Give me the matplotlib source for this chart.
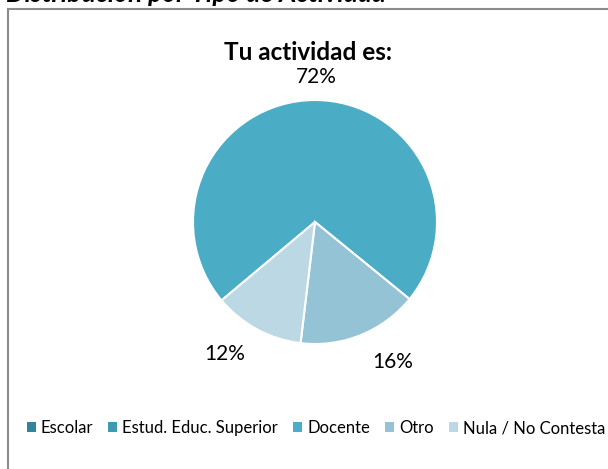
import numpy as np
import matplotlib
matplotlib.use('Agg')
import matplotlib.pyplot as plt
from matplotlib.patches import Rectangle, Patch

plt.rcParams['font.family'] = ['Lato', 'DejaVu Sans']

categorias = ['Escolar', 'Estud. Educ. Superior', 'Docente', 'Otro', 'Nula / No Contesta']
valores = [0, 0, 72, 16, 12]
colores = ['#31849b', '#3d9ab3', '#4bacc6', '#93c3d5', '#bcd8e4']
# label placement (distance in radii, angle tweak in degrees), Excel "best fit" style
dist_etiqueta = [0, 0, 1.19, 1.31, 1.31]
giro_etiqueta = [0, 0, -1, 7, -6]

W, H = 608, 469
fig = plt.figure(figsize=(W / 100, H / 100), dpi=100)

# chart frame (runs off the right and bottom edge)
fig.patches.append(Rectangle((8 / W, -0.05), 1.1, 1.05 - 9 / H, transform=fig.transFigure,
                             fill=False, edgecolor='#8c8c8c', linewidth=1.5, zorder=0))

# sheet title above the chart, cut by the top edge as in the original
fig.text(6 / W, 1 - 2 / H, 'Distribución por Tipo de Actividad', fontsize=19,
         fontweight='bold', fontstyle='italic', va='baseline', ha='left')

fig.text(308 / W, 1 - 60 / H, 'Tu actividad es:', fontsize=17.5, fontweight='bold',
         ha='center', va='baseline')

cx, cy, r = 315, 222, 122
ax = fig.add_axes([(cx - r) / W, (H - cy - r) / H, 2 * r / W, 2 * r / H])
wedges, _ = ax.pie(valores, colors=colores, startangle=-140, counterclock=False,
                   wedgeprops=dict(edgecolor='white', linewidth=1.5))
ax.set_xlim(-1, 1)
ax.set_ylim(-1, 1)
ax.set_aspect('auto')

total = sum(valores)
for w, v, d, g in zip(wedges, valores, dist_etiqueta, giro_etiqueta):
    if v == 0:
        continue
    ang = np.deg2rad((w.theta1 + w.theta2) / 2 + g)
    ax.text(d * np.cos(ang), d * np.sin(ang), f'{v / total:.0%}', fontsize=15,
            ha='center', va='center')

handles = [Patch(facecolor=c, edgecolor='none') for c in colores]
fig.legend(handles, categorias, loc='center', bbox_to_anchor=(316 / W, 1 - 428 / H),
           ncol=5, frameon=False, fontsize=12, handlelength=0.55, handleheight=0.55,
           handletextpad=0.3, columnspacing=0.9)

fig.savefig('out.png', dpi=100)
